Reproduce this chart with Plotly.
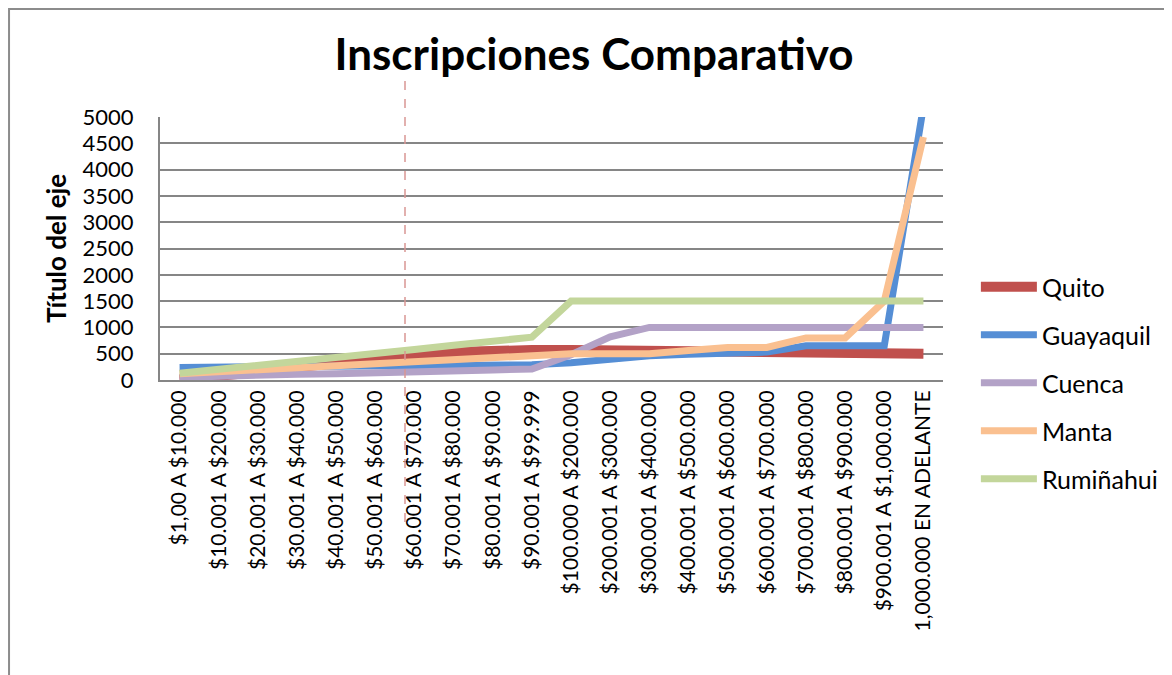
import plotly.graph_objects as go

rangos = ['$1,00 A $10.000', '$10.001 A $20.000', '$20.001 A $30.000', '$30.001 A $40.000',
          '$40.001 A $50.000', '$50.001 A $60.000', '$60.001 A $70.000', '$70.001 A $80.000',
          '$80.001 A $90.000', '$90.001 A $99.999', '$100.000 A $200.000', '$200.001 A $300.000',
          '$300.001 A $400.000', '$400.001 A $500.000', '$500.001 A $600.000', '$600.001 A $700.000',
          '$700.001 A $800.000', '$800.001 A $900.000', '$900.001 A $1,000.000', '1,000.000 EN ADELANTE']

quito     = [10, 60, 150, 240, 330, 420, 490, 530, 560, 570, 570, 560, 550, 540, 530, 520, 510, 505, 500, 500]
guayaquil = [240, 245, 250, 255, 260, 265, 270, 275, 280, 290, 330, 400, 460, 490, 510, 530, 650, 650, 650, 5200]
cuenca    = [50, 80, 100, 110, 120, 130, 150, 170, 190, 210, 480, 820, 1000, 1000, 1000, 1000, 1000, 1000, 1000, 1000]
manta     = [120, 160, 200, 240, 280, 330, 370, 400, 430, 460, 500, 500, 500, 560, 620, 620, 800, 800, 1500, 4620]
ruminahui = [130, 200, 280, 350, 430, 510, 580, 660, 740, 815, 1500, 1500, 1500, 1500, 1500, 1500, 1500, 1500, 1500, 1500]

series = [('Quito', quito, '#C0504D', 10),
          ('Guayaquil', guayaquil, '#558ED5', 7),
          ('Cuenca', cuenca, '#B3A2C7', 7),
          ('Manta', manta, '#FAC090', 7),
          ('Rumiñahui', ruminahui, '#C3D69B', 7)]

FONT = 'Lato'

fig = go.Figure()
for name, vals, color, w in series:
  fig.add_trace(go.Scatter(x = rangos, y = vals, name = name, mode = 'lines', legendgroup = name,
                           line = dict(color = color, width = w)))

#The page adds an 8px body margin, so margins are pulled in by 8px
fig.update_layout(
  width = 1172, height = 675,
  paper_bgcolor = 'white', plot_bgcolor = 'white',
  margin = dict(l = 152, r = 237, t = 109, b = 303),
  font = dict(family = FONT, color = 'black'),
  title = dict(text = '<b>Inscripciones Comparativo</b>', x = 0.5, xref = 'container', xanchor = 'center',
               y = 0.9314, yref = 'container', yanchor = 'middle', font = dict(size = 44, family = FONT)),
  showlegend = True,
  legend = dict(x = 1.042, xanchor = 'left', y = 0.441, yanchor = 'top', traceorder = 'grouped',
                tracegroupgap = 12.5, itemwidth = 56, font = dict(size = 25, family = FONT),
                bgcolor = 'rgba(0,0,0,0)'),
)

fig.update_xaxes(type = 'category', range = [-0.5, 19.5], tickangle = -90, tickfont = dict(size = 21),
                 showline = True, linecolor = '#868686', linewidth = 2, showgrid = False, ticks = '')
fig.update_yaxes(range = [0, 5000], dtick = 500, tickformat = 'd', tickfont = dict(size = 22),
                 ticklabelstandoff = 20,
                 showline = True, linecolor = '#868686', linewidth = 2,
                 showgrid = True, gridcolor = '#868686', gridwidth = 1.5, zeroline = False, ticks = '',
                 title = dict(text = '<b>Título del eje</b>', font = dict(size = 26), standoff = 8))

#Outer chart frame
fig.add_shape(type = 'rect', xref = 'paper', yref = 'paper', x0 = -0.1928, x1 = 1.4, y0 = -1.3, y1 = 1.4106,
              line = dict(color = '#8C8C8C', width = 2), fillcolor = 'rgba(0,0,0,0)', layer = 'below')
#Stray dashed marker line from the source
fig.add_shape(type = 'line', xref = 'paper', yref = 'paper', x0 = 0.3129, x1 = 0.3129, y0 = -0.54, y1 = 1.137,
              line = dict(color = '#D99694', width = 1.5, dash = 'dash'))

fig.write_html('out.html')
